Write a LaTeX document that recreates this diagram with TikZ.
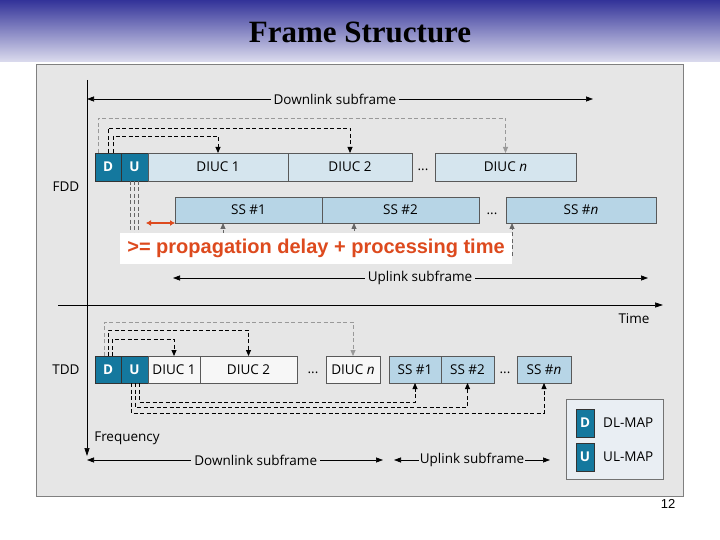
\documentclass[tikz,border=0pt]{standalone}
\usepackage{fontspec}
\setmainfont{Open Sans}
\newfontfamily\titlefont{Liberation Serif}
\newfontfamily\notefont{Liberation Sans}
\usetikzlibrary{arrows.meta, positioning, calc}
\definecolor{hdrtop}{HTML}{333399}
\definecolor{hdrmid}{HTML}{9A9ACB}
\definecolor{hdrbot}{HTML}{DCDCEE}
\definecolor{panel}{HTML}{E6E6E6}
\definecolor{mapblue}{HTML}{14789E}
\definecolor{diucfill}{HTML}{D5E5EE}
\definecolor{ssfill}{HTML}{B7D5E6}
\definecolor{legfill}{HTML}{E9EEF3}
\definecolor{noteorange}{HTML}{DD4A1E}
\newcommand\lblfont{\fontsize{13.5}{15}\selectfont}
\tikzset{
  mapbox/.style={draw=black!80, fill=mapblue, text=white, font=\bfseries\lblfont,
    inner sep=0pt, outer sep=0pt, anchor=north west},
  cell/.style={draw=black!65, inner sep=0pt, outer sep=0pt, font=\lblfont, anchor=north west},
  diuc/.style={cell, fill=#1},
  ssbox/.style={cell, fill=ssfill},
  lbl/.style={font=\lblfont, inner sep=1pt},
  spanlbl/.style={fill=panel, font=\lblfont, inner sep=3pt},
  span/.style={{Triangle[length=7pt,width=5pt]}-{Triangle[length=7pt,width=5pt]}, line width=0.7pt},
  axis/.style={-{Triangle[length=8pt,width=5pt]}, line width=0.7pt},
  kdash/.style={-{Triangle[length=6pt,width=5pt]}, dash pattern=on 4pt off 2.5pt, line width=0.8pt},
  gdash/.style={kdash, draw=black!40},
  udash/.style={kdash, draw=black!60},
  gaparr/.style={{Latex[length=5pt,width=6pt]}-{Latex[length=5pt,width=6pt]}, draw=noteorange, line width=1.6pt},
  notebox/.style={fill=white, minimum width=392pt, minimum height=31pt, text=noteorange,
    font=\notefont\bfseries\fontsize{20}{22}\selectfont},
}

\begin{document}
\begin{tikzpicture}[x=1pt, y=-1pt]
  \useasboundingbox (0,0) rectangle (720,540);
  \fill[white] (0,0) rectangle (720,540);
  % header band
  \shade[top color=hdrtop, middle color=hdrmid, bottom color=hdrbot] (0,0) rectangle (720,62);
  \node[font=\titlefont\bfseries\fontsize{31}{34}\selectfont] (title) at (360,32) {Frame Structure};
  \draw[draw=black!50, fill=panel, line width=1pt] (36,65) rectangle (683,496);

  % axes
  \coordinate (fax0) at (87,80);
  \coordinate (fax1) at (87,456);
  \coordinate (tax0) at (58,305);
  \coordinate (tax1) at (663,305);
  \draw[axis] (fax0) -- (fax1);
  \draw[axis] (tax0) -- (tax1);
  \node[lbl] (fddlbl) at (66,187) {FDD};
  \node[lbl] (tddlbl) at (66,370) {TDD};
  \node[lbl] (timelbl) at (634,319) {Time};
  \node[lbl] (freqlbl) at (127,438) {Frequency};

  % FDD downlink
  \node[mapbox, minimum width=26pt, minimum height=28pt] (fD) at (95,153) {D};
  \node[mapbox, minimum width=27pt, minimum height=28pt, right=0pt of fD] (fU) {U};
  \node[diuc=diucfill, minimum width=140pt, minimum height=28pt, right=0pt of fU] (fDi1) {DIUC 1};
  \node[diuc=diucfill, minimum width=124pt, minimum height=28pt, right=0pt of fDi1] (fDi2) {DIUC 2};
  \node[diuc=diucfill, minimum width=141pt, minimum height=28pt] (fDn) at (435,153) {DIUC \textit{n}};
  \node[lbl] (fdots1) at (423,170) {...};

  % FDD uplink
  \node[ssbox, minimum width=147pt, minimum height=26pt] (fS1) at (175,197) {SS \#1};
  \node[ssbox, minimum width=157pt, minimum height=26pt, right=0pt of fS1] (fS2) {SS \#2};
  \node[ssbox, minimum width=150pt, minimum height=26pt] (fSn) at (506,197) {SS \#\textit{n}};
  \node[lbl] (fdots2) at (492,214) {...};

  \draw[gdash] ([xshift=3pt]fD.north west) -- ++(0,-35) -| (fDn.north);
  \draw[kdash] ([xshift=13pt]fD.north west) -- ++(0,-25) -| (fDi2.north);
  \draw[kdash] ([xshift=18pt]fD.north west) -- ++(0,-17) -| (fDi1.north);
  \draw[udash] ([xshift=17pt]fU.south west) -- ++(0,65) -| ([xshift=48pt]fS1.south west);
  \draw[udash] ([xshift=13pt]fU.south west) -- ++(0,71) -| ([xshift=32pt]fS2.south west);
  \draw[udash] ([xshift=9pt]fU.south west) -- ++(0,77) -| ([xshift=6pt]fSn.south west);

  \coordinate (dlA) at (87,99);
  \coordinate (dlB) at (593,99);
  \draw[span] (dlA) -- node[spanlbl, pos=0.49] {Downlink subframe} (dlB);
  \coordinate (ulA) at (173,278);
  \coordinate (ulB) at (648,278);
  \draw[span] (ulA) -- node[spanlbl, pos=0.52] {Uplink subframe} (ulB);

  % guard time note
  \coordinate (gapL) at (146,223);
  \draw[gaparr] (gapL) -- (fS1.south west);
  \node[notebox] (note) at (316,248.5) {>= propagation delay + processing time};

  % TDD frame
  \node[mapbox, minimum width=26pt, minimum height=27pt] (tD) at (95,356) {D};
  \node[mapbox, minimum width=27pt, minimum height=27pt, right=0pt of tD] (tU) {U};
  \node[diuc=white!97!black, minimum width=52pt, minimum height=27pt, right=0pt of tU] (tDi1) {DIUC 1};
  \node[diuc=white!97!black, minimum width=97pt, minimum height=27pt, right=0pt of tDi1] (tDi2) {DIUC 2};
  \node[diuc=white!97!black, minimum width=54pt, minimum height=27pt] (tDn) at (326,356) {DIUC \textit{n}};
  \node[lbl] (tdots1) at (313,373) {...};
  \node[ssbox, minimum width=52pt, minimum height=27pt] (tS1) at (389,356) {SS \#1};
  \node[ssbox, minimum width=53pt, minimum height=27pt, right=0pt of tS1] (tS2) {SS \#2};
  \node[ssbox, minimum width=54pt, minimum height=27pt] (tSn) at (517,356) {SS \#\textit{n}};
  \node[lbl] (tdots2) at (505,373) {...};

  \draw[gdash] ([xshift=9pt]tD.north west) -- ++(0,-34) -| (tDn.north);
  \draw[kdash] ([xshift=13pt]tD.north west) -- ++(0,-26) -| (tDi2.north);
  \draw[kdash] ([xshift=17pt]tD.north west) -- ++(0,-17) -| (tDi1.north);
  \draw[kdash] ([xshift=18pt]tU.south west) -- ++(0,19) -| (tS1.south);
  \draw[kdash] ([xshift=14pt]tU.south west) -- ++(0,24) -| (tS2.south);
  \draw[kdash] ([xshift=10pt]tU.south west) -- ++(0,30) -| (tSn.south);

  \coordinate (bdA) at (87,460);
  \coordinate (bdB) at (383,460);
  \draw[span] (bdA) -- node[spanlbl, pos=0.57] {Downlink subframe} (bdB);
  \coordinate (buA) at (394,460);
  \coordinate (buB) at (550,460);
  \draw[span] (buA) -- node[spanlbl, inner sep=1pt, pos=0.5] {Uplink subframe} (buB);

  % legend
  \node[draw=black!55, fill=legfill, minimum width=97pt, minimum height=80pt,
    inner sep=0pt, anchor=north west] (legend) at (566,399) {};
  \node[mapbox, minimum width=18pt, minimum height=28pt] (lgD) at (576,409) {D};
  \node[mapbox, minimum width=18pt, minimum height=28pt] (lgU) at (576,443) {U};
  \node[lbl, right=8pt of lgD] (lgDtxt) {DL-MAP};
  \node[lbl, right=8pt of lgU] (lgUtxt) {UL-MAP};

  \node[font=\notefont\fontsize{13}{15}\selectfont] (pgno) at (668,504) {12};
\end{tikzpicture}
\end{document}
